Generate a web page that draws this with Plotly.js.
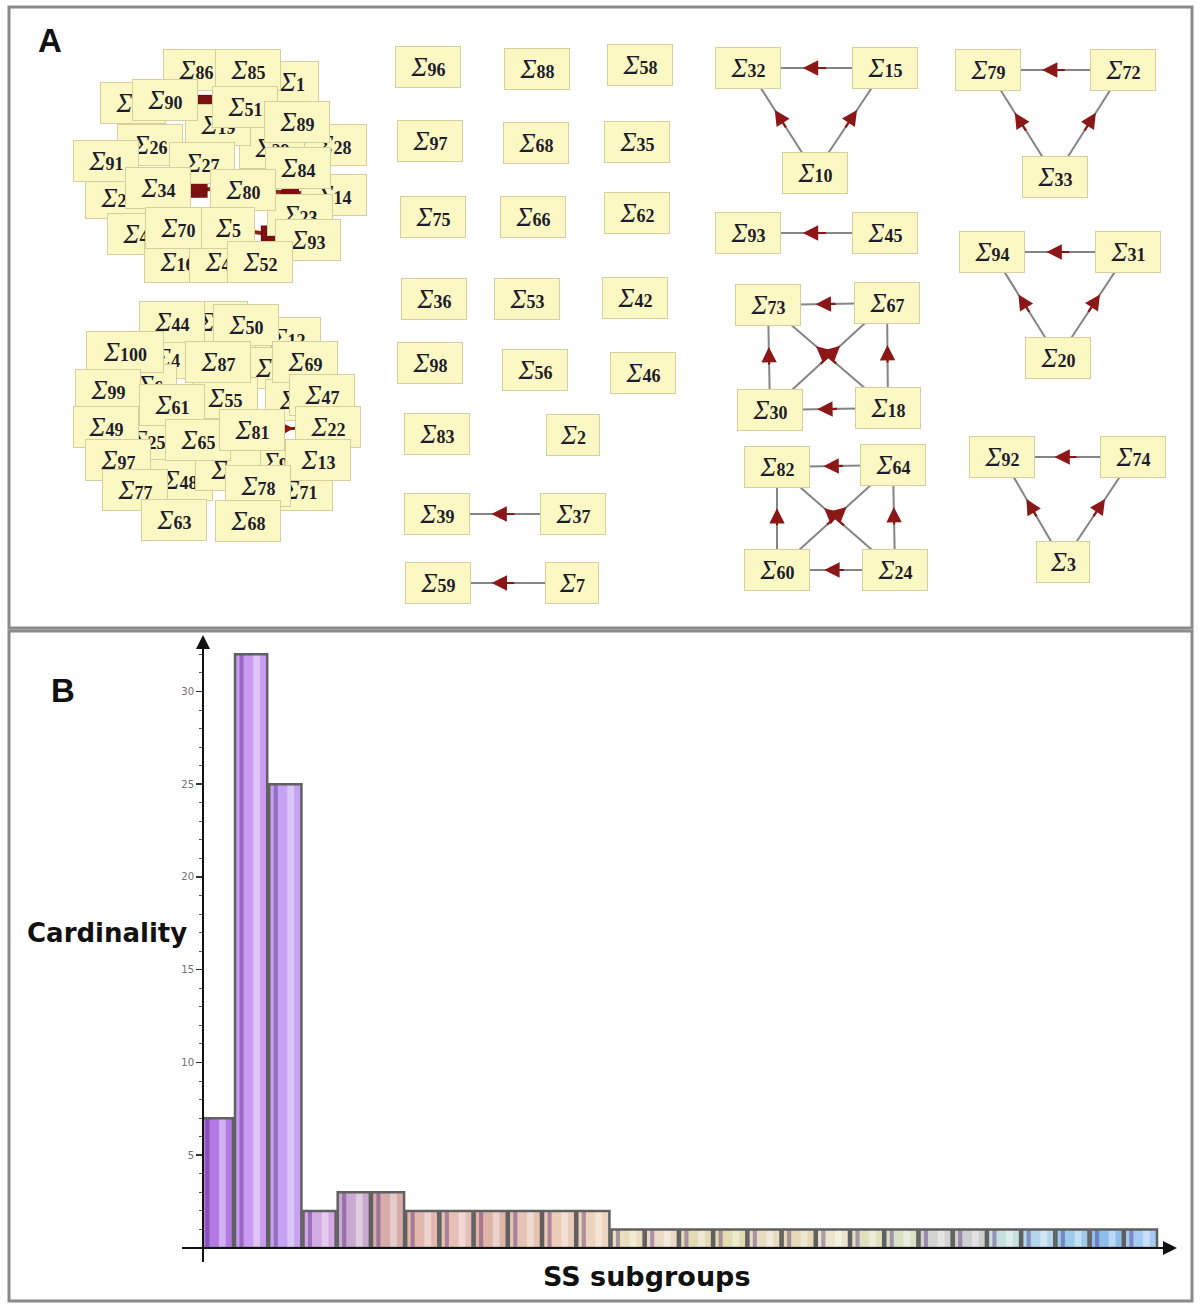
<!DOCTYPE html>
<html><head><meta charset="utf-8">
<script src="https://cdn.plot.ly/plotly-3.0.1.min.js"></script>
<style>html,body{margin:0;padding:0;background:#fff}#chart{width:1200px;height:1306px}</style>
</head><body><div id="chart"></div>
<script>
// ---------- Panel B : bar chart data ----------
const subgroups = [1,2,3,4,5,6,7,8,9,10,11,12,13,14,15,16,17,18,19,20,21,22,23,24,25,26,27,28];
const cardinality = [7,32,25,2,3,3,2,2,2,2,2,2,1,1,1,1,1,1,1,1,1,1,1,1,1,1,1,1];
const barColors = ['#b479e4','#c99cf2','#c6a2f2','#d3a9e6','#c9a9cf','#d5aca9','#e2b7ae','#e6c0b4','#dfb5a8','#e7c3b3','#eccbb8','#eed3bd','#e9dfbd','#ecdac6','#e3dbb6','#e1ddae','#e7dbc0','#e3d9b6','#ebe6cb','#e0e1c0','#d9e2c6','#d3d3cf','#cfcfcf','#c6dfdf','#b2d7ec','#9ccbec','#8ebfec','#a6ccf4'];
const yTickVals = [5,10,15,20,25,30];
const yTickText = ['5','10','15','20','25','30'];

// ---------- Panel A : graph data ----------
// isolated nodes, pairs, triangles and squares (columns on the right)
const gridNums = [96,97,75,36,98,83,39,59, 88,68,66,53,56,2,37,7, 58,35,62,42,46, 32,15,10, 79,72,33, 93,45, 94,31,20, 73,67,30,18, 82,64,60,24, 92,74,3];
const gridX = [428,430,433,434,430,437,437,438, 537,536,533,527,535,573,573,572, 640,637,637,635,643, 748,885,815, 988,1123,1055, 748,885, 992,1128,1058, 768,887,770,888, 777,893,777,895, 1002,1133,1063];
const gridY = [67,141,217,299,363,434,514,583, 69,143,217,299,370,435,514,583, 65,142,213,298,373, 68,68,173, 70,70,177, 233,233, 252,252,358, 305,303,410,408, 467,465,570,570, 457,457,562];
const gridEdgeFrom = [15,10,10, 72,33,33, 45, 31,20,20, 67,30,18,18,18,30, 64,60,24,24,24,60, 74,3,3, 37,7];
const gridEdgeTo   = [32,32,15, 79,79,72, 93, 94,94,31, 73,73,67,30,73,67, 82,82,64,60,82,64, 92,92,74, 39,59];

// cluster of 32 (top left), listed from bottom layer to top layer
const cluster1Nums = [1,28,14,29,23,86,17,19,26,21,41,16,43,85,90,51,89,91,27,84,34,80,70,5,93,52];
const cluster1X = [292,334,334,272,300,196,133,218,150,118,140,177,222,248,165,245,297,106,202,298,158,243,178,228,308,260];
const cluster1Y = [82,145,195,148,215,70,103,125,145,198,234,262,262,70,100,107,122,161,163,168,188,190,228,228,240,262];
const cluster1EdgeFrom = [90,80,80,5];
const cluster1EdgeTo   = [51,34,14,93];

// cluster of 25 (bottom left), listed from bottom layer to top layer
const cluster2Nums = [12,57,4,11,6,55,8,25,9,48,38,71,44,50,100,87,69,99,61,47,49,65,81,22,97,13,77,78,63,68];
const cluster2X = [288,215,167,272,150,225,292,148,275,180,228,300,172,246,125,218,305,108,172,322,106,198,252,328,118,318,135,258,174,248];
const cluster2Y = [338,322,358,368,385,398,400,440,462,480,470,490,322,325,352,362,362,390,405,395,427,440,430,427,460,460,490,486,520,521];
const cluster2EdgeFrom = [81,44];
const cluster2EdgeTo   = [22,61];

// ---------- helpers ----------
const W = 1200, H = 1306;
const PX = x => x / W;
const PY = y => 1 - y / H;
function hex2rgb(h){h=h.replace('#','');return [0,2,4].map(i=>parseInt(h.substr(i,2),16));}
function mix(c1,c2,t){const a=hex2rgb(c1),b=hex2rgb(c2);const r=a.map((v,i)=>Math.round(v+(b[i]-v)*t));return 'rgb('+r.join(',')+')';}
function lbl(n){return '<i>Σ</i><span style="font-size:18px"><b>'+n+'</b></span>';}
function boxW(n){const d=String(n).length;return d===1?52:(d===2?64:76);}

const annotations = [];
const shapes = [];
const traces = [];

// ---------- Panel B traces ----------
traces.push({type:'bar', x:subgroups, y:cardinality, width:0.94, marker:{color:barColors, line:{width:0}}, hoverinfo:'skip'});
traces.push({type:'bar', x:subgroups, y:cardinality, width:0.12, offset:-0.34, marker:{color:barColors.map(c=>mix(c,'#3a0a6a',0.35)), line:{width:0}}, hoverinfo:'skip'});
traces.push({type:'bar', x:subgroups, y:cardinality, width:0.2, offset:0.06, marker:{color:barColors.map(c=>mix(c,'#ffffff',0.4)), line:{width:0}}, hoverinfo:'skip'});
traces.push({type:'bar', x:subgroups, y:cardinality, width:0.94, marker:{color:'rgba(0,0,0,0)', line:{color:'#606060', width:2.5}}, hoverinfo:'skip'});

// ---------- Panel A edges ----------
function addEdges(nums,X,Y,from,to,opt){
  const ex=[], ey=[];
  for(let k=0;k<from.length;k++){
    const i=nums.indexOf(from[k]), j=nums.indexOf(to[k]);
    const x1=X[i],y1=Y[i],x2=X[j],y2=Y[j];
    ex.push(x1,x2,null); ey.push(y1,y2,null);
    const hx=x1+opt.th*(x2-x1), hy=y1+opt.th*(y2-y1);
    const tx=x1+opt.tt*(x2-x1), ty=y1+opt.tt*(y2-y1);
    annotations.push({xref:'x2',yref:'y2',axref:'x2',ayref:'y2',x:hx,y:hy,ax:tx,ay:ty,text:'',showarrow:true,
      arrowhead:opt.head,arrowsize:opt.size,arrowwidth:opt.aw,arrowcolor:opt.acolor,standoff:0,startstandoff:0});
  }
  traces.push({type:'scatter',mode:'lines',x:ex,y:ey,xaxis:'x2',yaxis:'y2',line:{color:opt.lcolor,width:opt.lw},hoverinfo:'skip'});
}
addEdges(gridNums,gridX,gridY,gridEdgeFrom,gridEdgeTo,{th:0.6,tt:0.42,head:2,size:1.4,aw:2.2,acolor:'#8b1717',lcolor:'#858585',lw:2});
addEdges(cluster1Nums,cluster1X,cluster1Y,cluster1EdgeFrom,cluster1EdgeTo,{th:0.52,tt:0.4,head:7,size:1.1,aw:4,acolor:'#7a1010',lcolor:'#8a2a10',lw:4});
addEdges(cluster2Nums,cluster2X,cluster2Y,cluster2EdgeFrom,cluster2EdgeTo,{th:0.55,tt:0.4,head:2,size:1,aw:3,acolor:'#9a1010',lcolor:'#9a1a10',lw:3});

// ---------- Panel A nodes ----------
function addNodes(nums,X,Y){
  for(let k=0;k<nums.length;k++){
    annotations.push({xref:'x2',yref:'y2',x:X[k],y:Y[k],xanchor:'center',yanchor:'middle',text:lbl(nums[k]),showarrow:false,
      width:boxW(nums[k]),height:40,bgcolor:'#fcf8c4',bordercolor:'#d8d09c',borderwidth:1,borderpad:0,
      font:{family:'Liberation Serif, DejaVu Serif, serif',size:27,color:'#1c1c2a'},align:'center',valign:'middle'});
  }
}
addNodes(cluster1Nums,cluster1X,cluster1Y);
addNodes(cluster2Nums,cluster2X,cluster2Y);
addNodes(gridNums,gridX,gridY);

// ---------- frames, letters, axis decorations ----------
shapes.push({type:'rect',xref:'paper',yref:'paper',x0:PX(9),x1:PX(1192),y0:PY(7),y1:PY(628),line:{color:'#8a8a8a',width:3}});
shapes.push({type:'rect',xref:'paper',yref:'paper',x0:PX(9),x1:PX(1192),y0:PY(631),y1:PY(1301),line:{color:'#8a8a8a',width:3}});
shapes.push({type:'line',xref:'paper',yref:'paper',x0:PX(182),x1:PX(1168),y0:PY(1248),y1:PY(1248),line:{color:'#111',width:2}});
shapes.push({type:'line',xref:'paper',yref:'paper',x0:PX(203),x1:PX(203),y0:PY(1262),y1:PY(642),line:{color:'#111',width:2}});
annotations.push({xref:'paper',yref:'paper',x:PX(203),y:PY(635),ax:0,ay:20,text:'',showarrow:true,arrowhead:2,arrowsize:1.4,arrowwidth:2,arrowcolor:'#111',standoff:0});
annotations.push({xref:'paper',yref:'paper',x:PX(1177),y:PY(1248),ax:-20,ay:0,text:'',showarrow:true,arrowhead:2,arrowsize:1.4,arrowwidth:2,arrowcolor:'#111',standoff:0});
const txt = (x,y,t,f) => ({xref:'paper',yref:'paper',x:PX(x),y:PY(y),xanchor:'center',yanchor:'middle',text:t,showarrow:false,font:f});
annotations.push(txt(50,40,'<b>A</b>',{family:'Liberation Sans, Arial, sans-serif',size:33,color:'#111'}));
annotations.push(txt(63,690,'<b>B</b>',{family:'Liberation Sans, Arial, sans-serif',size:33,color:'#111'}));
annotations.push(txt(107,933,'<b>Cardinality</b>',{family:'DejaVu Sans, sans-serif',size:26,color:'#111'}));
annotations.push(txt(647,1276,'<b>SS subgroups</b>',{family:'DejaVu Sans, sans-serif',size:27,color:'#111'}));

const layout = {
  width:W, height:H, margin:{l:0,r:0,t:0,b:0,pad:0},
  paper_bgcolor:'#ffffff', plot_bgcolor:'rgba(0,0,0,0)',
  showlegend:false, barmode:'overlay', hovermode:false,
  xaxis:{domain:[PX(203),PX(1170)], range:[0.594,28.85], showgrid:false, zeroline:false, showticklabels:false, ticks:'', showline:false, fixedrange:true},
  yaxis:{domain:[PY(1248),PY(636)], range:[0,32.99], showgrid:false, zeroline:false, showline:false, fixedrange:true,
    tickmode:'array', tickvals:yTickVals, ticktext:yTickText, ticks:'outside', ticklen:6, tickwidth:1.5, tickcolor:'#333',
    tickfont:{family:'DejaVu Sans, sans-serif', size:10, color:'#707070'},
    minor:{tickmode:'linear', tick0:0, dtick:1, ticks:'outside', ticklen:3, tickwidth:1, tickcolor:'#555'}},
  xaxis2:{domain:[PX(10),PX(1192)], range:[10,1192], visible:false, anchor:'y2', fixedrange:true},
  yaxis2:{domain:[PY(628),PY(8)], range:[628,8], visible:false, anchor:'x2', fixedrange:true},
  shapes:shapes, annotations:annotations
};
Plotly.newPlot('chart', traces, layout, {displayModeBar:false, staticPlot:true});
</script></body></html>
